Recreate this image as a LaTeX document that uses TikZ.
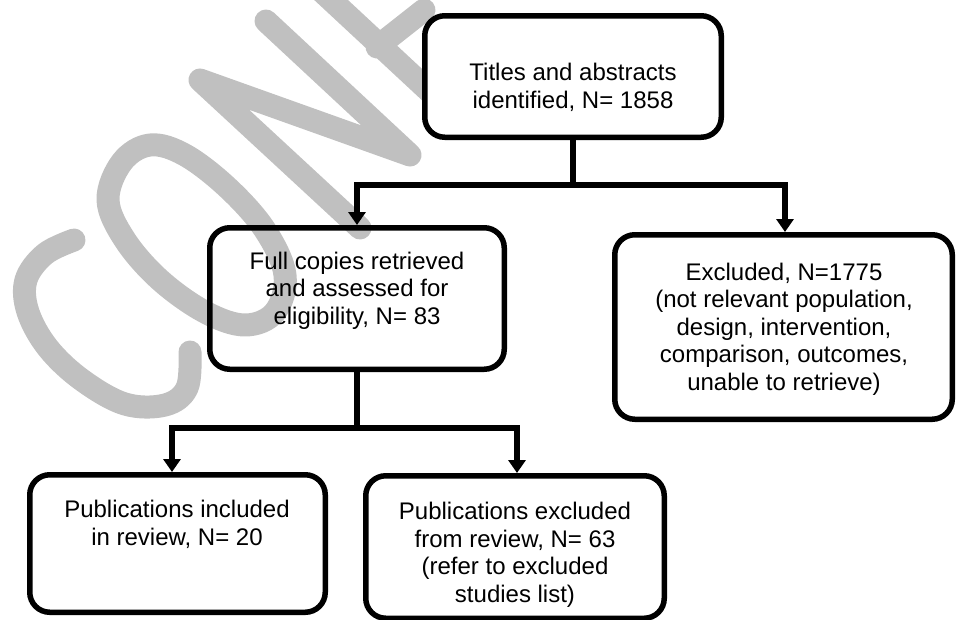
\documentclass[tikz,border=0pt]{standalone}
\usepackage{fontspec}
\setmainfont{Liberation Sans}
\usetikzlibrary{arrows.meta}
\definecolor{wmgray}{RGB}{192,192,192}
\begin{document}
\begin{tikzpicture}[x=1pt, y=-1pt,
  box/.style={draw, line width=5.5pt, rounded corners=20pt, inner sep=0pt},
  conn/.style={line width=5.5pt},
  arr/.style={conn, -{Triangle[length=13pt, width=17pt]}},
  txt/.style={align=center, inner sep=0pt, font=\fontsize{24}{27.5}\selectfont},
  wm/.style={draw=wmgray, line width=23pt, line cap=round, line join=round}]
\useasboundingbox (0,0) rectangle (957,619);

% background watermark lettering
\begin{scope}
  \clip (0,0) rectangle (957,619);
  % C
  \draw[wm] plot[smooth, tension=0.6] coordinates {(74,240) (45,254) (26,280) (28,312) (48,348) (82,380) (125,404) (165,405) (187,388) (190,352)};
  % O
  \draw[wm] plot[smooth cycle, tension=0.6] coordinates {(108,200) (122,162) (150,145) (185,155) (228,188) (265,230) (285,275) (275,312) (245,325) (205,312) (160,280) (125,240)};
  % N
  \draw[wm] (360,228) -- (200,80) -- (410,155) -- (266,21);
  % F
  \draw[wm] (444,105) -- (287,-41) -- (340,-110);
  \draw[wm] (377,47) -- (424,10);
\end{scope}

% boxes
\node[box, fill=white, minimum width=296.5pt, minimum height=121.5pt] (bTop) at (573,76.5) {};
\node[box, minimum width=294.5pt, minimum height=141.5pt] (bMid) at (357,298.5) {};
\node[box, minimum width=337.5pt, minimum height=184.5pt] (bExcl) at (783.5,327) {};
\node[box, minimum width=295.5pt, minimum height=137.5pt] (bInc) at (177.5,543.5) {};
\node[box, minimum width=298.5pt, minimum height=142.5pt] (bOut) at (515,547) {};

% box texts, placed by the baseline of their last line
\node[txt, anchor=base] (tTop) at (573,108.3) {Titles and abstracts\\identified, N= 1858};
\node[txt, anchor=base] (tMid) at (357,324) {Full copies retrieved\\and assessed for\\eligibility, N= 83};
\node[txt, anchor=base] (tExcl) at (784,390) {Excluded, N=1775\\(not relevant population,\\design, intervention,\\comparison, outcomes,\\unable to retrieve)};
\node[txt, anchor=base] (tInc) at (177,545) {Publications included\\in review, N= 20};
\node[txt, anchor=base] (tOut) at (515,602) {Publications excluded\\from review, N= 63\\(refer to excluded\\studies list)};

% connectors
\coordinate (j1) at (573,185);
\coordinate (j2) at (357,428);
\draw[conn] (bTop.south) -- (j1);
\draw[arr] (j1) -| (bMid.north);
\draw[arr] (j1) -| ([xshift=1.5pt]bExcl.north);
\draw[conn] (bMid.south) -- (j2);
\draw[arr] (j2) -| ([xshift=-5.5pt]bInc.north);
\draw[arr] (j2) -| ([xshift=2pt]bOut.north);
\end{tikzpicture}
\end{document}
